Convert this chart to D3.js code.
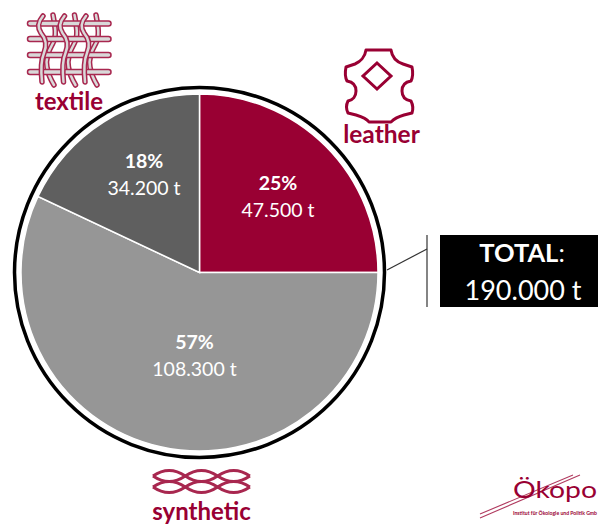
<!DOCTYPE html>
<html>
<head>
<meta charset="utf-8">
<script src="https://cdn.jsdelivr.net/npm/d3@7"></script>
<style>
  html, body { margin: 0; padding: 0; background: #fff; }
  svg { display: block; }
  text { font-family: Lato, "Open Sans", sans-serif; }
</style>
</head>
<body>
<svg id="chart" width="598" height="525"></svg>
<script>
const categories = ["leather", "synthetic", "textile"];
const tonnes = [47500, 108300, 34200];
const percents = ["25%", "57%", "18%"];
const amounts = ["47.500 t", "108.300 t", "34.200 t"];
const sliceColors = ["#990033", "#969696", "#5f5f5f"];
const totalLabel = "190.000 t";

const RED = "#990033";
const svg = d3.select("#chart");
const cx = 199.5, cy = 272.5;

// pie
const pie = d3.pie().sort(null);
const arc = d3.arc().innerRadius(0).outerRadius(178.5);
const g = svg.append("g").attr("transform", `translate(${cx},${cy})`);

g.selectAll("path")
  .data(pie(tonnes))
  .enter()
  .append("path")
  .attr("d", arc)
  .attr("fill", (d, i) => sliceColors[i])
  .attr("stroke", "#fff")
  .attr("stroke-width", 1.5);

g.append("circle")
  .attr("r", 185)
  .attr("fill", "none")
  .attr("stroke", "#000")
  .attr("stroke-width", 3.5);

// slice labels
const labelPos = [[78.5, -82.5], [-5, 76.5], [-55.5, -104.5]];
const labels = g.selectAll(".slice-label")
  .data(categories)
  .enter()
  .append("text")
  .attr("class", "slice-label")
  .attr("text-anchor", "middle")
  .attr("fill", "#fff")
  .attr("font-size", 19.5);
labels.append("tspan")
  .attr("x", (d, i) => labelPos[i][0])
  .attr("y", (d, i) => labelPos[i][1])
  .attr("font-weight", 700)
  .text((d, i) => percents[i]);
labels.append("tspan")
  .attr("x", (d, i) => labelPos[i][0])
  .attr("y", (d, i) => labelPos[i][1] + 27)
  .text((d, i) => amounts[i]);

// total box
svg.append("line").attr("x1", 387).attr("y1", 270).attr("x2", 427).attr("y2", 249)
  .attr("stroke", "#333").attr("stroke-width", 1.2);
svg.append("line").attr("x1", 427).attr("y1", 235).attr("x2", 427).attr("y2", 307)
  .attr("stroke", "#333").attr("stroke-width", 1.2);
svg.append("rect").attr("x", 440).attr("y", 235).attr("width", 158).attr("height", 72).attr("fill", "#000");
const totalText = svg.append("text").attr("text-anchor", "middle").attr("fill", "#fff").attr("font-size", 25.5);
totalText.append("tspan").attr("x", 522).attr("y", 262).attr("font-weight", 700).text("TOTAL");
totalText.append("tspan").attr("font-weight", 400).text(":");
svg.append("text").attr("x", 523).attr("y", 300).attr("text-anchor", "middle").attr("fill", "#fff")
  .attr("font-size", 27).text(totalLabel);

// category names
const catX = [381.5, 201.5, 69];
const catY = [143, 519.5, 110];
const catSize = [24.5, 24, 24];
svg.selectAll(".cat")
  .data(categories)
  .enter()
  .append("text")
  .attr("class", "cat")
  .attr("x", (d, i) => catX[i])
  .attr("y", (d, i) => catY[i])
  .attr("text-anchor", "middle")
  .attr("fill", RED)
  .attr("font-weight", 700)
  .attr("font-size", (d, i) => catSize[i])
  .text(d => d);

// textile icon
const weave = svg.append("g");
function outlined(d, w) {
  weave.append("path").attr("d", d).attr("fill", "none").attr("stroke", "#a8274f")
    .attr("stroke-width", w).attr("stroke-linecap", "round");
  weave.append("path").attr("d", d).attr("fill", "none").attr("stroke", "#d9d9d9")
    .attr("stroke-width", w - 3).attr("stroke-linecap", "round");
}
const pairs = [0, 21.5, 43];
pairs.forEach(x => {
  outlined(`M${x + 53},15 C${x + 55},26 ${x + 57},36 ${x + 53},43 C${x + 49},50 ${x + 45},58 ${x + 47},67 C${x + 48},74 ${x + 51},80 ${x + 54},85`, 5.5);
});
[23.5, 39, 55, 72].forEach(y => outlined(`M30,${y}H108.5`, 6.5));
pairs.forEach(x => {
  outlined(`M${x + 43},16 C${x + 38},22 ${x + 37},27 ${x + 41},33 C${x + 47},40 ${x + 47},46 ${x + 44},53 C${x + 41},60 ${x + 41},72 ${x + 42},82`, 5.5);
});

// leather icon
svg.append("path")
  .attr("d", "M366,50 L391,50 C392,57 397,62 403,64 L412,67 C413,72 413,77 411,81 C405,82 402,86 402,91 C402,96 405,100 411,101 C413,105 413,110 412,113 L404,115 C397,117 393,120 391,122 L369,122 C367,119 363,117 356,115 L348,113 C346,109 346,105 348,101 C353,100 356,96 356,91 C356,86 353,82 347,81 C345,77 345,72 346,67 L355,64 C360,62 365,57 366,50 Z")
  .attr("fill", "none").attr("stroke", RED).attr("stroke-width", 3).attr("stroke-linejoin", "round");
svg.append("path").attr("d", "M377,63 L391,76 L377,89 L363,76 Z")
  .attr("fill", "none").attr("stroke", RED).attr("stroke-width", 3);

// synthetic icon
const mesh = svg.append("g").attr("fill", "none").attr("stroke", "#a8274f").attr("stroke-width", 3);
[[476, 11], [476, -11], [487, 11], [487, -11]].forEach(([y, a]) => {
  let d = `M153,${y}`;
  for (let i = 0; i < 3; i++) {
    const x0 = 153 + i * 32.3, s = i % 2 ? -a : a;
    d += ` Q${x0 + 16.1},${y - s} ${x0 + 32.3},${y}`;
  }
  mesh.append("path").attr("d", d);
});

// logo
const logo = svg.append("g");
logo.append("path").attr("d", "M480,518 L580,475 M480,514 L573,475")
  .attr("stroke", "#b03a5f").attr("stroke-width", 1.1).attr("fill", "none");
logo.append("text").attr("x", 513).attr("y", 498).attr("fill", RED).attr("font-size", 24)
  .attr("textLength", 84).attr("lengthAdjust", "spacingAndGlyphs").text("Ökopo");
logo.append("text").attr("x", 513).attr("y", 515).attr("fill", RED).attr("font-size", 5).attr("font-weight", 700)
  .attr("textLength", 84).attr("lengthAdjust", "spacingAndGlyphs").text("Institut für Ökologie und Politik Gmb");
</script>
</body>
</html>
